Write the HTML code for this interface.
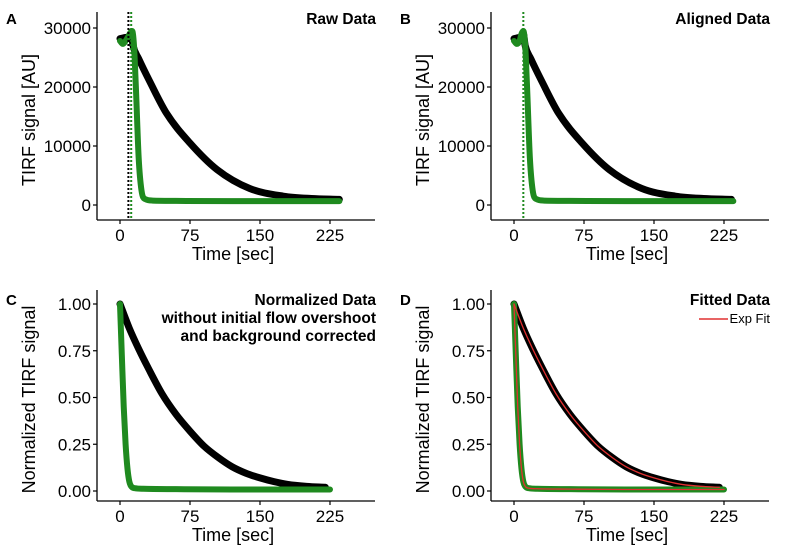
<!DOCTYPE html>
<html><head><meta charset="utf-8">
<style>
html,body{margin:0;padding:0;background:#fff;}
svg{display:block;font-family:"Liberation Sans",Arial,sans-serif;}
</style></head>
<body>
<svg id="chart" width="788" height="554" viewBox="0 0 788 554"></svg>
<script>
// ---- data ----
const rawBlackT = [0,3,6,9,11,12,14,20,32,50,75,104,139,175,205,235];
const rawBlackV = [28200,28300,28400,28500,28800,29000,27000,24800,20900,15500,10500,6000,2800,1500,1100,950];
const rawGreenT = [0,3,6,9,11,13,15,17,20,23,27,35,60,120,235];
const rawGreenV = [27800,27300,27800,28600,29200,29500,27000,20000,8000,2500,1000,750,700,650,650];
const alnBlackT = [0,3,6,9,10,12,18,30,48,73,102,137,173,203,233];
const alnBlackV = [28200,28300,28400,28500,29000,27000,24800,20900,15500,10500,6000,2800,1500,1100,950];
const alnGreenT = [0,3,6,8,10,12,14,17,20,24,32,60,120,235];
const alnGreenV = [27800,27300,27800,29000,29500,27000,20000,8000,2500,1000,750,700,650,650];
const normBlackT = [0,10,20,30,45,60,75,90,105,120,135,150,165,180,200,220];
const normBlackV = [1.0,0.87,0.76,0.66,0.52,0.41,0.32,0.24,0.18,0.13,0.095,0.07,0.05,0.035,0.025,0.02];
const normGreenT = [0,2,4,6,8,10,12,16,25,60,120,225];
const normGreenV = [1.0,0.72,0.45,0.25,0.12,0.05,0.025,0.015,0.012,0.01,0.008,0.008];
const xTicks = [0,75,150,225];
const rawYTicks = [0,10000,20000,30000];
const normYTicks = [0,0.25,0.5,0.75,1.0];
const normYLabels = ["0.00","0.25","0.50","0.75","1.00"];

const NS="http://www.w3.org/2000/svg";
const svg=document.getElementById('chart');
function mk(tag,attrs,parent){const e=document.createElementNS(NS,tag);for(const k in attrs)e.setAttribute(k,attrs[k]);(parent||svg).appendChild(e);return e;}

// monotone cubic path
function smoothPath(P){
  const n=P.length; if(n<3) return 'M'+P.map(p=>p.join(',')).join('L');
  const d=[],m=[];
  for(let i=0;i<n-1;i++) d.push((P[i+1][1]-P[i][1])/(P[i+1][0]-P[i][0]));
  m[0]=d[0]; m[n-1]=d[n-2];
  for(let i=1;i<n-1;i++) m[i]=(d[i-1]*d[i]<=0)?0:(d[i-1]+d[i])/2;
  for(let i=0;i<n-1;i++){ if(d[i]===0){m[i]=0;m[i+1]=0;continue;}
    const a=m[i]/d[i],b=m[i+1]/d[i],s=a*a+b*b; if(s>9){const t=3/Math.sqrt(s);m[i]=t*a*d[i];m[i+1]=t*b*d[i];}}
  let s='M'+P[0][0]+','+P[0][1];
  for(let i=0;i<n-1;i++){const h=(P[i+1][0]-P[i][0])/3;
    s+=` C${P[i][0]+h},${P[i][1]+m[i]*h} ${P[i+1][0]-h},${P[i+1][1]-m[i+1]*h} ${P[i+1][0]},${P[i+1][1]}`;}
  return s;
}

function panel(ox,oy,cfg){
  const g=mk('g',{transform:`translate(${ox},${oy})`});
  
  
  const axX=97, axB=cfg.axB, axTop=cfg.axTop, axR=375;
  const xs=t=>120+t*0.9333;
  const ys=v=>cfg.y0+(v-cfg.ymin)/(cfg.ymax-cfg.ymin)*(cfg.y1-cfg.y0);
  const ya=mk('line',{x1:axX,y1:axTop,x2:axX,y2:axB,stroke:'#000','stroke-width':1.3},g);
  
  
  const xa=mk('line',{x1:axX,y1:axB,x2:axR,y2:axB,stroke:'#000','stroke-width':1.3},g);
  
  
  xTicks.forEach(t=>{
    mk('line',{x1:xs(t),y1:axB,x2:xs(t),y2:axB+4,stroke:'#000','stroke-width':1.2},g);
    const tx=mk('text',{x:xs(t),y:axB+21,'text-anchor':'middle','font-size':17,fill:'#000'},g);
    tx.textContent=t;
    
    
  });
  cfg.yt.forEach((v,i)=>{
    mk('line',{x1:axX-4,y1:ys(v),x2:axX,y2:ys(v),stroke:'#000','stroke-width':1.2},g);
    const tx=mk('text',{x:axX-6,y:ys(v)+6,'text-anchor':'end','font-size':17,fill:'#000'},g);
    tx.textContent=cfg.yl[i];
    
    
  });
  const xt=mk('text',{x:233,y:axB+40,'text-anchor':'middle','font-size':18,fill:'#000'},g);
  xt.textContent='Time [sec]';
  
  
  const ymid=(axTop+axB)/2;
  const yt=mk('text',{x:0,y:0,'text-anchor':'middle','font-size':18,fill:'#000',transform:`translate(35,${ymid+4}) rotate(-90)`},g);
  yt.textContent=cfg.ytitle;
  
  
  const lt=mk('text',{x:6,y:cfg.titleY,'font-size':15,'font-weight':'bold',fill:'#000'},g);
  lt.textContent=cfg.letter;
  
  
  cfg.title.forEach((s,i)=>{
    const t=mk('text',{x:376,y:cfg.titleY+i*18,'text-anchor':'end','font-size':15.5,'font-weight':'bold',fill:'#000'},g);
    t.textContent=s;
    
    
  });
  const line=(T,V,color,w,name)=>{
    const p=mk('path',{d:smoothPath(T.map((t,i)=>[xs(t),ys(V[i])])),fill:'none',stroke:color,'stroke-width':w,'stroke-linejoin':'round','stroke-linecap':'round'},g);
    
    
  };
  cfg.series.forEach(s=>line(s.T,s.V,s.c,s.w,s.n));
  (cfg.vlines||[]).forEach(v=>{
    const l=mk('line',{x1:xs(v.t),y1:axTop,x2:xs(v.t),y2:axB,stroke:v.c,'stroke-width':2,'stroke-dasharray':'2,2'},g);
    
    
  });
  (cfg.fits||[]).forEach(s=>line(s.T,s.V,'#e03030',1.3,'exp-fit-line'));
  if(cfg.legend){
    const l=mk('line',{x1:305,y1:42,x2:334,y2:42,stroke:'#e03030','stroke-width':1.5},g);
    
    
    const t=mk('text',{x:376,y:46,'text-anchor':'end','font-size':13,fill:'#000'},g);
    t.textContent='Exp Fit';
    
    
  }
}
const rawCfg=(letter,title,bT,bV,gT,gV,vl)=>({letter,title,titleY:24,axTop:12,axB:220,ymin:0,ymax:30000,y0:205,y1:28,
  yt:rawYTicks,yl:rawYTicks.map(String),ytitle:'TIRF signal [AU]',vlines:vl,
  series:[{T:bT,V:bV,c:'#000',w:7,n:'black-series'},{T:gT,V:gV,c:'#1f8a1f',w:6,n:'green-series'}]});
const normCfg=(letter,title,fit)=>({letter,title,titleY:28,axTop:13,axB:224,ymin:0,ymax:1,y0:214,y1:27,
  yt:normYTicks,yl:normYLabels,ytitle:'Normalized TIRF signal',legend:fit,
  series:[{T:normBlackT,V:normBlackV,c:'#000',w:7,n:'black-series'},{T:normGreenT,V:normGreenV,c:'#1f8a1f',w:6,n:'green-series'}],
  fits:fit?[{T:normBlackT,V:normBlackV},{T:normGreenT,V:normGreenV}]:[]});
panel(0,0,rawCfg('A',['Raw Data'],rawBlackT,rawBlackV,rawGreenT,rawGreenV,[{t:9,c:'#000'},{t:12,c:'#1f8a1f'}]));
panel(394,0,rawCfg('B',['Aligned Data'],alnBlackT,alnBlackV,alnGreenT,alnGreenV,[{t:10,c:'#1f8a1f'}]));
panel(0,277,normCfg('C',['Normalized Data','without initial flow overshoot','and background corrected'],false));
panel(394,277,normCfg('D',['Fitted Data'],true));
</script>
</body></html>
